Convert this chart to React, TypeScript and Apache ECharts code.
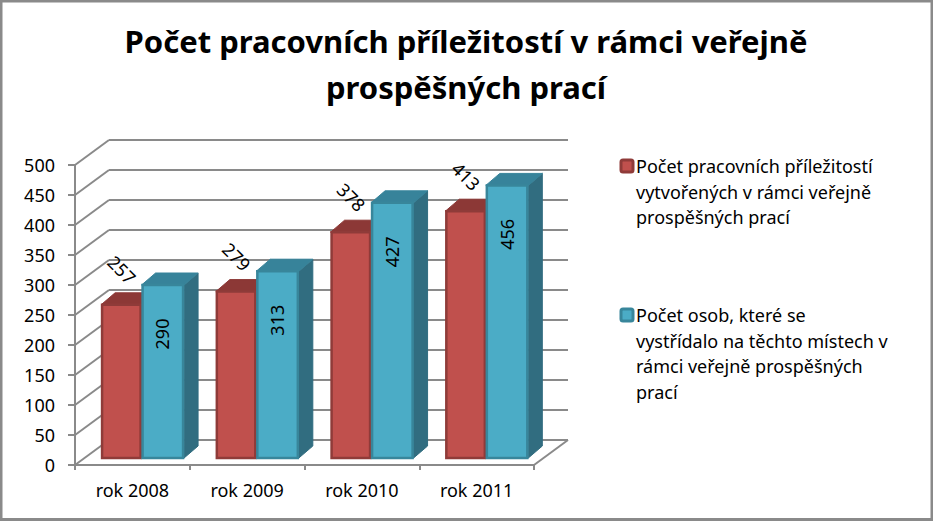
import React, { useEffect, useRef } from "react";
import * as echarts from "echarts";

const titleText = "Počet pracovních příležitostí v rámci veřejně\nprospěšných prací";
const categories = ["rok 2008", "rok 2009", "rok 2010", "rok 2011"];
const seriesNames = [
  "Počet pracovních příležitostí\nvytvořených v rámci veřejně\nprospěšných prací",
  "Počet osob, které se\nvystřídalo na těchto místech v\nrámci veřejně prospěšných\nprací",
];
const jobsCreated = [257, 279, 378, 413];
const peopleRotated = [290, 313, 427, 456];
const gridTicks = [0, 50, 100, 150, 200, 250, 300, 350, 400, 450, 500];

const FONT = '"Noto Sans", sans-serif';
const GRID = "#8a8a8a";
const DEPTH_X = 34;
const DEPTH_Y = 25;

const wallItem = (params: any, api: any) => {
  const cs = params.coordSys;
  const y = api.coord([0, api.value(0)])[1];
  const style = { stroke: GRID, lineWidth: 2, fill: "none" };
  const children: any[] = [
    { type: "line", shape: { x1: cs.x, y1: y, x2: cs.x + DEPTH_X, y2: y - DEPTH_Y }, style },
    { type: "line", shape: { x1: cs.x + DEPTH_X, y1: y - DEPTH_Y, x2: cs.x + cs.width + DEPTH_X, y2: y - DEPTH_Y }, style },
  ];
  if (api.value(0) === 0) {
    children.push({
      type: "line",
      shape: { x1: cs.x + cs.width, y1: y, x2: cs.x + cs.width + DEPTH_X, y2: y - DEPTH_Y },
      style,
    });
  }
  return { type: "group", children };
};

const barItem = (front: string, edge: string, top: string, side: string, isRed: boolean) => (params: any, api: any) => {
  const idx = api.value(0);
  const val = api.value(1);
  const [cx, yv] = api.coord([idx, val]);
  const [, y0] = api.coord([idx, 0]);
  const split = cx + 9.2;
  const w = 40.5;
  const x1 = isRed ? split - w : split;
  const x2 = x1 + w + (isRed ? 0 : 2);
  const b = y0 - 7;
  const t = yv - 6;
  const dx = 14;
  const dy = 12;
  const label = isRed
    ? { x: cx - 10.5, y: yv - 41, rotation: -Math.PI / 4 }
    : { x: cx + 30, y: yv + 43, rotation: Math.PI / 2 };
  return {
    type: "group",
    children: [
      { type: "polygon", shape: { points: [[x2, t], [x2 + dx, t - dy], [x2 + dx, b - dy], [x2, b]] }, style: { fill: side, stroke: side, lineWidth: 1 } },
      { type: "polygon", shape: { points: [[x1, t], [x1 + dx, t - dy], [x2 + dx, t - dy], [x2, t]] }, style: { fill: top, stroke: top, lineWidth: 1 } },
      { type: "rect", shape: { x: x1 + 1, y: t, width: x2 - x1 - 2, height: b - t }, style: { fill: front, stroke: edge, lineWidth: 2.5 } },
      {
        type: "text",
        x: label.x,
        y: label.y,
        rotation: label.rotation,
        style: { text: String(val), font: `18px ${FONT}`, fill: "#000", align: "center", verticalAlign: "middle" },
      },
    ],
  };
};

const legendEntry = (y: number, text: string, fill: string, edge: string) => [
  { type: "rect", shape: { x: 621, y: y + 1, width: 12, height: 12, r: 2 }, style: { fill, stroke: edge, lineWidth: 3 } },
  { type: "text", x: 636, y: y - 6, style: { text, font: `18px ${FONT}`, lineHeight: 25.7, fill: "#000" } },
];

export default function App() {
  const ref = useRef<HTMLDivElement>(null);
  useEffect(() => {
    const chart = echarts.init(ref.current!, undefined, { renderer: "svg" });
    chart.setOption({
      animation: false,
      backgroundColor: "#fff",
      title: {
        text: titleText,
        left: 461,
        top: 13,
        textAlign: "center",
        textStyle: { fontFamily: FONT, fontWeight: "bold", fontSize: 31, lineHeight: 46, color: "#000" },
      },
      grid: { left: 75, top: 165, width: 459, height: 300 },
      xAxis: {
        type: "category",
        data: categories,
        axisLine: { lineStyle: { color: GRID, width: 2 } },
        axisTick: { show: true, length: 5, lineStyle: { color: GRID, width: 2 } },
        axisLabel: { color: "#000", fontFamily: FONT, fontSize: 18, margin: 16 },
      },
      yAxis: {
        type: "value",
        min: 0,
        max: 500,
        interval: 50,
        splitLine: { show: false },
        axisLine: { show: true, lineStyle: { color: GRID, width: 2 } },
        axisTick: { show: true, length: 7, lineStyle: { color: GRID, width: 2 } },
        axisLabel: { color: "#000", fontFamily: FONT, fontSize: 18, margin: 20 },
      },
      series: [
        { type: "custom", silent: true, z: 1, data: gridTicks.map((v) => [v]), encode: { y: 0 }, renderItem: wallItem },
        {
          type: "custom",
          name: seriesNames[0],
          z: 2,
          data: jobsCreated.map((v, i) => [i, v]),
          renderItem: barItem("#C0504D", "#8F3B39", "#8C3836", "#7a302e", true),
        },
        {
          type: "custom",
          name: seriesNames[1],
          z: 3,
          data: peopleRotated.map((v, i) => [i, v]),
          renderItem: barItem("#4BACC6", "#38869B", "#37839A", "#316D80", false),
        },
      ],
      graphic: [
        { type: "rect", silent: true, shape: { x: 1, y: 1, width: 931, height: 518.5 }, style: { fill: "none", stroke: "#8a8a8a", lineWidth: 3 } },
        ...legendEntry(159, seriesNames[0], "#C0504D", "#8F3B39"),
        ...legendEntry(308, seriesNames[1], "#4BACC6", "#38869B"),
      ],
    });
    return () => chart.dispose();
  }, []);
  return <div ref={ref} style={{ position: "absolute", left: 0, top: 0, width: 933, height: 521 }} />;
}
